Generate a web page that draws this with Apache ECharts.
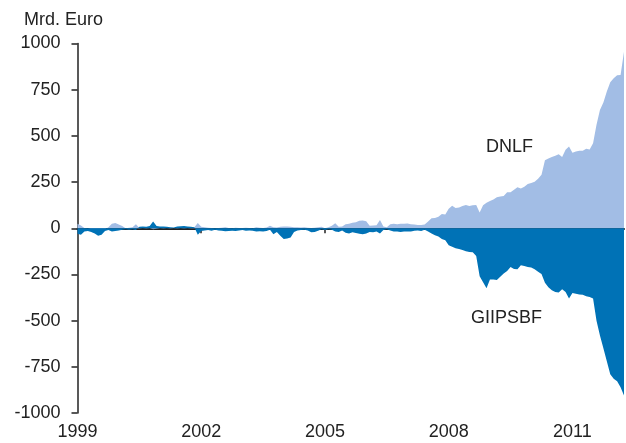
<!DOCTYPE html>
<html>
<head>
<meta charset="utf-8">
<script src="https://cdn.jsdelivr.net/npm/echarts@6/dist/echarts.min.js"></script>
<style>
	html, body { margin: 0; padding: 0; background: #fff; }
	#chart { width: 626px; height: 443px; }
</style>
</head>
<body>
<div id="chart"></div>
<script>
// Monatswerte Jan 1999 - Apr 2012, Mrd. Euro
var dnlf = [
	25, 15, 2, 0, -5, -8, -10, -8, -5, 5, 25, 28,
	20, 12, 0, 3, 5, 22, 2, 0, -2, 0, -5, -3,
	0, 2, 0, -2, 0, 2, 0, -2, 0, 2, 5, 28,
	8, 5, 3, 2, 0, 2, 3, 5, 2, 0, 3, 2,
	2, 3, 2, 0, 5, 3, 2, 4, 14, 5, 4, 8,
	10, 9, 8, 6, 5, 4, 5, 3, 2, 3, 5, 8,
	0, 6, 14, 27, 8, 10, 22, 24, 30, 32, 40, 42,
	38, 14, 15, 16, 45, 10, 6, 22, 24, 22, 25, 24,
	26, 22, 20, 18, 18, 20, 36, 54, 56, 62, 77, 75,
	105, 122, 110, 112, 120, 126, 120, 124, 126, 85, 125, 138,
	148, 155, 168, 172, 175, 195, 195, 208, 222, 215, 225, 240,
	245, 252, 268, 290, 368, 378, 385, 392, 400, 385, 425, 442,
	408, 415, 420, 420, 430, 426, 460, 560, 640, 680, 740, 790,
	812, 828, 830, 955
];
var giipsbf = [
	-30, -35, -18, -15, -20, -28, -40, -35, -15, -10, -18, -15,
	-12, -8, -5, -8, -5, -10, 8, 10, 8, 12, 36, 12,
	10, 9, 8, 6, 4, 10, 11, 12, 10, 8, 6, -35,
	-15, -12, -10, -14, -8, -12, -14, -16, -15, -14, -15, -12,
	-10, -14, -12, -14, -18, -16, -18, -15, -8, -32, -20, -40,
	-58, -56, -50, -20, -12, -10, -8, -12, -22, -20, -14, -5,
	-10, -5, -8, -18, -20, -12, -25, -28, -22, -26, -30, -32,
	-28, -20, -22, -18, -28, -10, -5, -12, -18, -18, -20, -18,
	-18, -18, -14, -12, -15, -8, -18, -28, -38, -45, -58, -65,
	-92, -100, -108, -112, -118, -125, -128, -130, -150, -260, -292, -325,
	-278, -278, -280, -262, -245, -232, -210, -220, -222, -200, -205, -210,
	-212, -222, -235, -248, -295, -320, -335, -345, -348, -330, -345, -380,
	-350, -355, -358, -360, -368, -372, -380, -500, -580, -650, -720, -790,
	-815, -828, -860, -905
];
var yTicks = [-1000, -750, -500, -250, 0, 250, 500, 750, 1000];

var months = [];
for (var i = 0; i < dnlf.length; i++) {
	var y = 1999 + Math.floor(i / 12);
	var m = (i % 12) + 1;
	months.push(y + '-' + (m < 10 ? '0' + m : m));
}

var font = '"Liberation Sans", Arial, sans-serif';
var myChart = echarts.init(document.getElementById('chart'));
myChart.setOption({
	animation: false,
	textStyle: { fontFamily: font },
	grid: { left: 77.5, right: 2, top: 43.5, bottom: 30, containLabel: false },
	title: {
		text: 'Mrd. Euro', left: 19, top: 6,
		textStyle: { fontSize: 18, fontWeight: 'normal', color: '#222', fontFamily: font }
	},
	xAxis: [
		{
			type: 'category',
			data: months,
			boundaryGap: false,
			axisLine: { onZero: true, lineStyle: { color: '#222', width: 2 } },
			axisTick: { show: true, length: 5, interval: function (i) { return i > 0 && i % 36 === 0; }, lineStyle: { color: '#222', width: 1.5 } },
			axisLabel: { show: false },
			splitLine: { show: false }
		},
		{
			type: 'category',
			data: months,
			boundaryGap: false,
			position: 'bottom',
			axisLine: { show: false, onZero: false },
			axisTick: { show: false },
			axisLabel: {
				show: true, margin: 10, fontSize: 18, color: '#222',
				interval: function (i) { return i % 36 === 0; },
				formatter: function (v) { return v.slice(0, 4); }
			},
			splitLine: { show: false }
		}
	],
	yAxis: {
		type: 'value',
		min: yTicks[0],
		max: yTicks[yTicks.length - 1],
		interval: 250,
		axisLine: { show: true, lineStyle: { color: '#222', width: 1.5 } },
		axisTick: { show: true, length: 6, lineStyle: { color: '#222', width: 1.5 } },
		axisLabel: { margin: 17, fontSize: 18, color: '#222', formatter: function (v) { return String(v); } },
		splitLine: { show: false }
	},
	series: [
		{
			name: 'DNLF',
			type: 'line',
			data: dnlf,
			showSymbol: false,
			lineStyle: { width: 0 },
			areaStyle: { color: '#a2bde5', opacity: 1 },
			z: 1
		},
		{
			name: 'GIIPSBF',
			type: 'line',
			data: giipsbf,
			showSymbol: false,
			lineStyle: { width: 0 },
			areaStyle: { color: '#0072b6', opacity: 1 },
			z: 2
		}
	],
	graphic: [
		{ type: 'text', left: 486, top: 138, style: { text: 'DNLF', fontSize: 18, fill: '#222', fontFamily: font } },
		{ type: 'text', left: 471, top: 309, style: { text: 'GIIPSBF', fontSize: 18, fill: '#222', fontFamily: font } }
	]
});
</script>
</body>
</html>
